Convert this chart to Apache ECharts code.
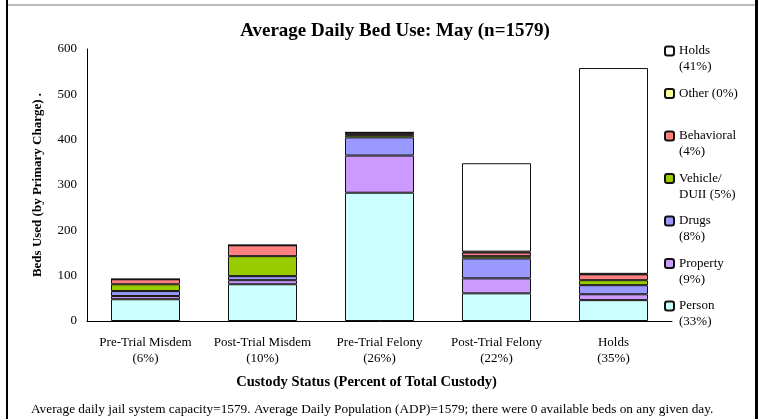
<!DOCTYPE html>
<html>
<head>
<meta charset="utf-8">
<script src="https://cdn.jsdelivr.net/npm/echarts@6/dist/echarts.min.js"></script>
<style>
  html, body { margin: 0; padding: 0; background: #fff; }
  #chart { width: 764px; height: 419px; }
</style>
</head>
<body>
<div id="chart"></div>
<script>
// categories and their share of total custody
const categories = ['Pre-Trial Misdem', 'Post-Trial Misdem', 'Pre-Trial Felony', 'Post-Trial Felony', 'Holds']
const categoryPct = ['(6%)', '(10%)', '(26%)', '(22%)', '(35%)']

// beds used per charge type (bottom to top of each stack)
const person = [48, 81, 283, 61, 46]
const property = [7, 9, 82, 33, 13]
const drugs = [11, 9, 40, 44, 20]
const vehicle = [15, 44, 5, 5, 11]
const behavioral = [11, 24, 5, 8, 13]
const other = [0, 0, 1, 2, 1]
const holds = [0, 0, 0, 195, 454]

const seriesNames = ['Person', 'Property', 'Drugs', 'Vehicle/', 'Behavioral', 'Other (0%)', 'Holds']
const legendSecond = { 'Person': '(33%)', 'Property': '(9%)', 'Drugs': '(8%)', 'Vehicle/': 'DUII (5%)', 'Behavioral': '(4%)', 'Other (0%)': ' ', 'Holds': '(41%)' }
const seriesData = [person, property, drugs, vehicle, behavioral, other, holds]
const colors = ['#CCFFFF', '#CC99FF', '#9999FF', '#99CC00', '#FF8080', '#FFFF99', '#FFFFFF']

const font = 'Liberation Serif'
const chart = echarts.init(document.getElementById('chart'))

const series = seriesNames.map((name, i) => ({
  name: name,
  type: 'bar',
  stack: 'beds',
  barWidth: '59%',
  data: seriesData[i],
  itemStyle: { color: colors[i], borderColor: '#111', borderWidth: 1 },
  emphasis: { disabled: true },
}))

const option = {
  animation: false,
  textStyle: { fontFamily: font },
  title: {
    text: 'Average Daily Bed Use: May (n=1579)',
    left: 390,
    top: 17,
    textAlign: 'center',
    textStyle: { fontFamily: font, fontSize: 19, fontWeight: 'bold', color: '#000' },
  },
  legend: {
    orient: 'vertical',
    left: 659,
    top: 22,
    itemGap: -5.5,
    itemWidth: 9,
    itemHeight: 9,
    data: seriesNames.slice().reverse(),
    formatter: function (name) {
      // blank first line keeps the marker next to the first text line
      return ' \n' + name + '\n' + legendSecond[name]
    },
    textStyle: { fontFamily: font, fontSize: 13, lineHeight: 16, color: '#000' },
    selectedMode: false,
  },
  grid: {
    left: 87,
    right: 92,
    top: 49,
    bottom: 98,
  },
  xAxis: {
    type: 'category',
    data: categories.map((c, i) => c + '\n' + categoryPct[i]),
    name: 'Custody Status (Percent of Total Custody)',
    nameLocation: 'center',
    nameGap: 54,
    nameTextStyle: { fontFamily: font, fontSize: 14.5, fontWeight: 'bold', color: '#000', padding: [0, 26, 0, 0] },
    axisLine: { lineStyle: { color: '#000', width: 1 } },
    axisTick: { show: false },
    axisLabel: { interval: 0, fontFamily: font, fontSize: 13, color: '#000', lineHeight: 16, margin: 14 },
  },
  yAxis: {
    type: 'value',
    min: 0,
    max: 600,
    interval: 100,
    name: 'Beds Used (by Primary Charge) .',
    nameLocation: 'center',
    nameGap: 43,
    nameTextStyle: { fontFamily: font, fontSize: 13, fontWeight: 'bold', color: '#000' },
    axisLine: { show: true, lineStyle: { color: '#000', width: 1 } },
    axisTick: { show: false },
    splitLine: { show: false },
    axisLabel: { fontFamily: font, fontSize: 13, color: '#000', margin: 10 },
  },
  graphic: [
    { type: 'line', shape: { x1: 7, y1: 5, x2: 755, y2: 5 }, style: { stroke: '#bbb', lineWidth: 2 } },
    { type: 'rect', shape: { x: 6, y: 0, width: 2, height: 419 }, style: { fill: '#000' } },
    { type: 'rect', shape: { x: 755, y: 0, width: 3, height: 419 }, style: { fill: '#000' } },
    {
      type: 'text',
      left: 31,
      top: 403,
      style: {
        text: 'Average daily jail system capacity=1579. Average Daily Population (ADP)=1579; there were 0 available beds on any given day.',
        font: '13.3px "Liberation Serif"',
        fill: '#000',
      },
    },
  ],
  series: series,
}

option && chart.setOption(option)
</script>
</body>
</html>
